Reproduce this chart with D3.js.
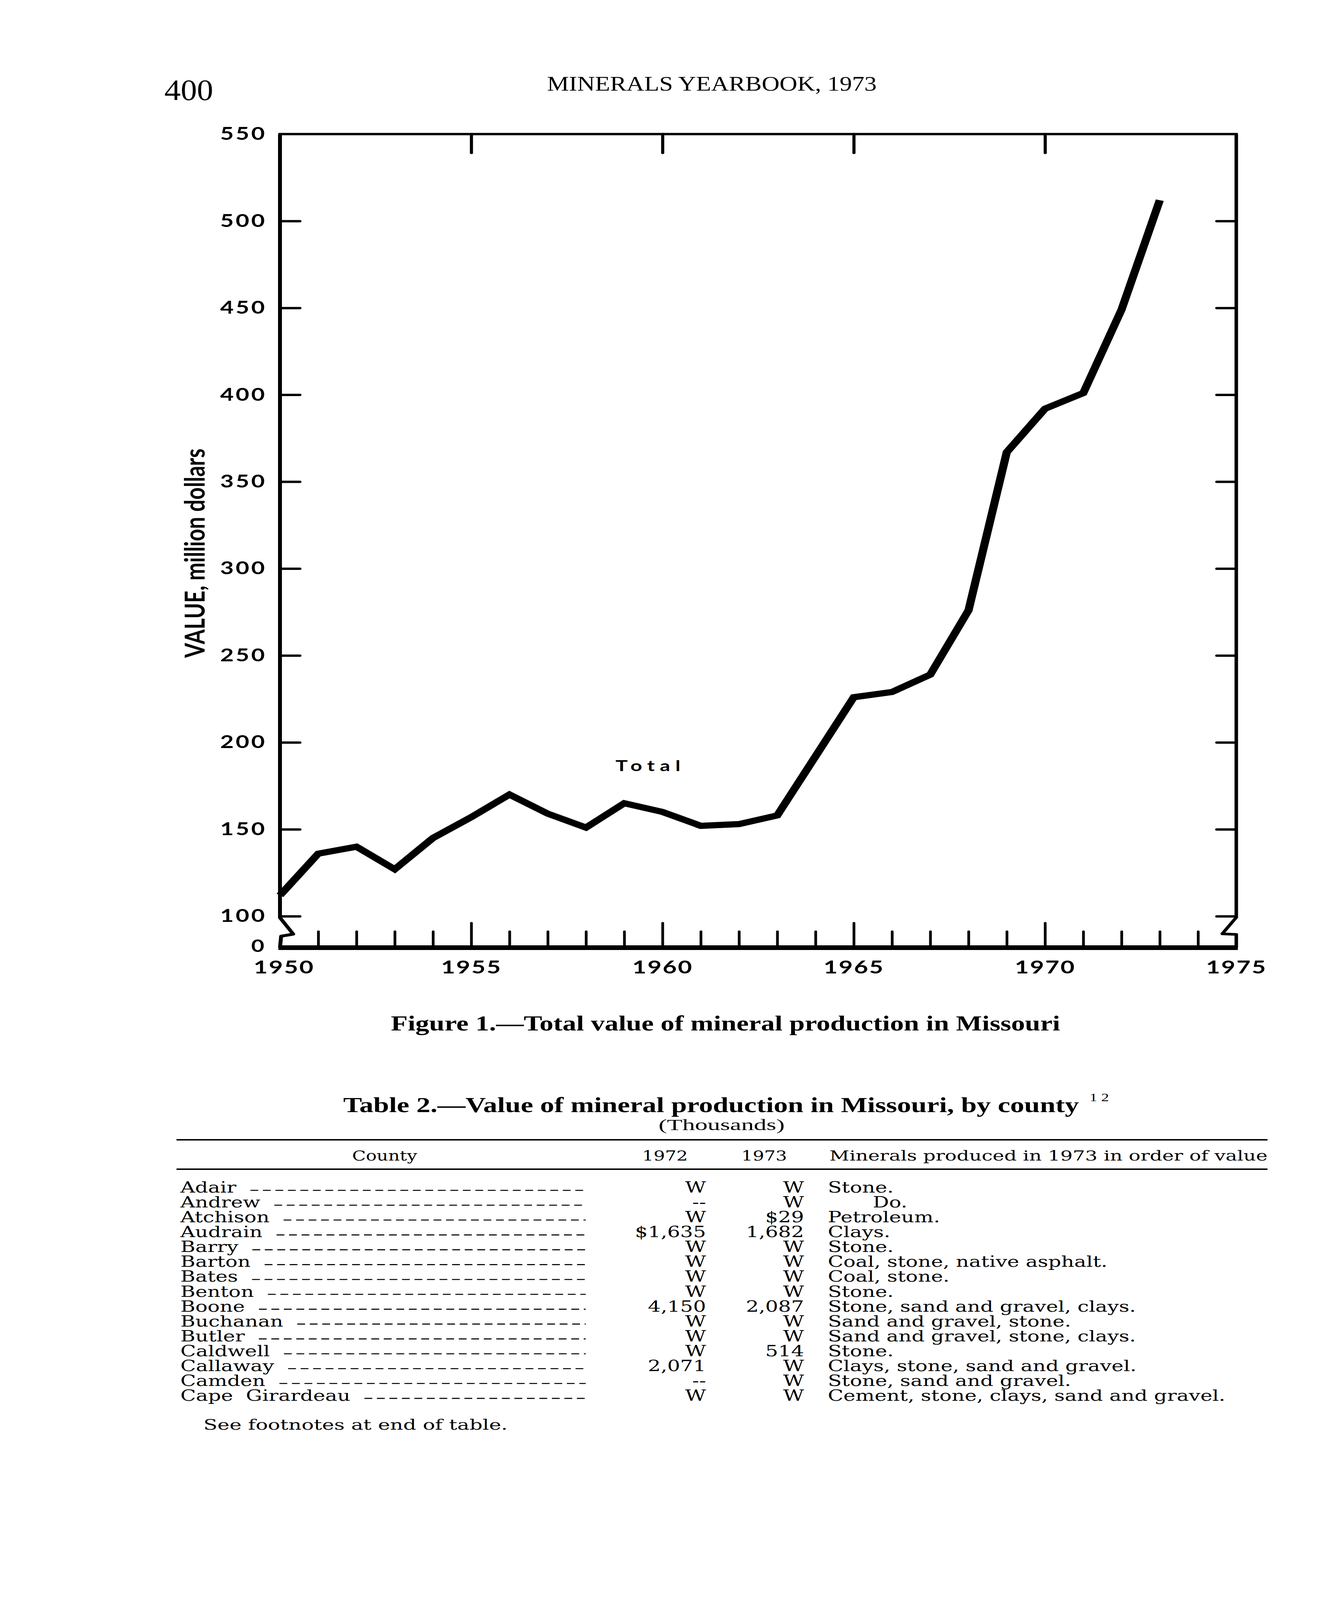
<!DOCTYPE html>
<html><head><meta charset="utf-8">
<script src="https://cdn.jsdelivr.net/npm/d3@7"></script>
<style>
html,body{margin:0;padding:0;background:#fff;width:100%;height:100%;overflow:hidden}
#page{display:block;width:100vw;height:100vh}
</style>
</head><body>
<svg id="page" viewBox="0 0 3406 5452" preserveAspectRatio="none" xmlns="http://www.w3.org/2000/svg"></svg>
<script>
// ---- chart data ----
const years  = [1950,1951,1952,1953,1954,1955,1956,1957,1958,1959,1960,1961,1962,1963,1964,1965,1966,1967,1968,1969,1970,1971,1972,1973];
const values = [112,136,140,127,145,157,170,159,151,165,160,152,153,158,192,226,229,239,276,367,392,401,449,512];
const yLabelValues = [100,150,200,250,300,350,400,450,500,550];
const yTickValues  = [100,150,200,250,300,350,400,450,500];
const xLabelYears  = [1950,1955,1960,1965,1970,1975];
const majorYears   = [1955,1960,1965,1970];
const seriesLabel  = "Total";
const yTitle = "VALUE, million dollars";

// ---- table data ----
const counties = ["Adair","Andrew","Atchison","Audrain","Barry","Barton","Bates","Benton","Boone","Buchanan","Butler","Caldwell","Callaway","Camden","Cape  Girardeau"];
const v1972 = ["W","--","W","$1,635","W","W","W","W","4,150","W","W","W","2,071","--","W"];
const v1973 = ["W","W","$29","1,682","W","W","W","W","2,087","W","W","514","W","W","W"];
const minerals = ["Stone.","Do.","Petroleum.","Clays.","Stone.","Coal, stone, native asphalt.","Coal, stone.","Stone.","Stone, sand and gravel, clays.","Sand and gravel, stone.","Sand and gravel, stone, clays.","Stone.","Clays, stone, sand and gravel.","Stone, sand and gravel.","Cement, stone, clays, sand and gravel."];

const svg = d3.select("#page");
svg.append("rect").attr("width",3406).attr("height",5452).attr("fill","#fff");

const serif = "'Liberation Serif', 'DejaVu Serif', serif";
const tserif = "'DejaVu Serif', 'Liberation Serif', serif";
const sans = "Lato, 'DejaVu Sans', sans-serif";

// ---- page header ----
svg.append("text").attr("x",421).attr("y",341).attr("font-family",serif).attr("font-size",100)
  .attr("textLength",125).attr("lengthAdjust","spacingAndGlyphs").text("400");
svg.append("text").attr("x",1401).attr("y",309).attr("font-family",serif).attr("font-size",70)
  .attr("textLength",844).attr("lengthAdjust","spacingAndGlyphs").text("MINERALS YEARBOOK, 1973");

// ---- scales ----
const x = d3.scaleLinear().domain([1950,1975]).range([717,3166]);
const y = d3.scaleLinear().domain([100,550]).range([3122,457]);
const y0 = 3229; // zero line below the axis break

const g = svg.append("g");

// frame: top
g.append("line").attr("x1",x(1950)).attr("x2",x(1975)).attr("y1",y(550)).attr("y2",y(550))
  .attr("stroke","#000").attr("stroke-width",8).attr("stroke-linecap","square");
// left axis with break
g.append("path").attr("d",
  `M${x(1950)},${y(550)} L${x(1950)},${y(100)+5} L${x(1950)+34},${y(100)+61} L${x(1950)+3},${y(100)+68} L${x(1950)},${y0}`)
  .attr("fill","none").attr("stroke","#000").attr("stroke-width",10).attr("stroke-linejoin","round");
// right axis with break
g.append("path").attr("d",
  `M${x(1975)},${y(550)} L${x(1975)},${y(100)+4} L${x(1975)-36},${y(100)+60} L${x(1975)},${y(100)+62} L${x(1975)},${y0}`)
  .attr("fill","none").attr("stroke","#000").attr("stroke-width",9).attr("stroke-linejoin","round");
// bottom thick baseline
g.append("line").attr("x1",x(1950)-4).attr("x2",x(1975)+4).attr("y1",y0).attr("y2",y0)
  .attr("stroke","#000").attr("stroke-width",16);

function styleAxis(sel, sw){
  sel.select(".domain").remove();
  sel.selectAll(".tick line").attr("stroke","#000").attr("stroke-width",sw).attr("stroke-linecap","round");
}

// left axis (inward ticks + labels)
const leftAx = g.append("g").attr("transform",`translate(${x(1950)},0)`)
  .call(d3.axisLeft(y).tickValues(yLabelValues).tickSizeInner(-51).tickSizeOuter(0).tickPadding(34).tickFormat(d3.format("d")));
styleAxis(leftAx, 8);
leftAx.selectAll(".tick").filter(d=>d===550).select("line").remove();
leftAx.selectAll(".tick text").attr("font-family",sans).attr("font-weight",700).attr("font-size",60)
  .attr("letter-spacing",5).attr("fill","#000");
// zero label below break
g.append("text").attr("x",x(1950)-40).attr("y",y0).attr("dy","0.26em").attr("text-anchor","end")
  .attr("font-family",sans).attr("font-weight",700).attr("font-size",58).text("0");

// right axis ticks
const rightAx = g.append("g").attr("transform",`translate(${x(1975)},0)`)
  .call(d3.axisRight(y).tickValues(yTickValues).tickSizeInner(-50).tickSizeOuter(0).tickFormat(""));
styleAxis(rightAx, 8);

// top axis ticks
const topAx = g.append("g").attr("transform",`translate(0,${y(550)})`)
  .call(d3.axisTop(x).tickValues(majorYears).tickSizeInner(-64).tickSizeOuter(0).tickFormat(""));
styleAxis(topAx, 8);

// bottom axis ticks (yearly minor, 5-year major)
const botAx = g.append("g").attr("transform",`translate(0,${y0})`)
  .call(d3.axisBottom(x).tickValues(d3.range(1951,1975)).tickSizeInner(-55).tickSizeOuter(0).tickFormat(""));
styleAxis(botAx, 7);
botAx.selectAll(".tick").filter(d=>majorYears.includes(d)).select("line").attr("y2",-84);

// bottom labels
const labAx = g.append("g").attr("transform",`translate(0,${y0})`)
  .call(d3.axisBottom(x).tickValues(xLabelYears).tickSize(0).tickPadding(44).tickFormat(d3.format("d")));
labAx.select(".domain").remove();
labAx.selectAll(".tick text").attr("font-family",sans).attr("font-weight",700).attr("font-size",62)
  .attr("letter-spacing",3).attr("fill","#000");
labAx.selectAll(".tick").filter(d=>d===1950).select("text").attr("x",10);

// y title
g.append("text").attr("transform","translate(497,1885) rotate(-90)").attr("text-anchor","middle")
  .attr("dominant-baseline","central").attr("font-family",sans).attr("font-weight",700).attr("font-size",70)
  .attr("textLength",713).attr("lengthAdjust","spacingAndGlyphs").text(yTitle);

// data line
const data = years.map((yr,i)=>({year:yr, value:values[i]}));
g.append("path").datum(data)
  .attr("d", d3.line().x(d=>x(d.year)).y(d=>y(d.value)))
  .attr("fill","none").attr("stroke","#000").attr("stroke-width",21)
  .attr("stroke-linejoin","miter").attr("stroke-miterlimit",3).attr("stroke-linecap","butt");

// series label
g.append("text").attr("x",x(1959.62)).attr("y",y(183.5)).attr("text-anchor","middle")
  .attr("font-family",sans).attr("font-weight",700).attr("font-size",52)
  .attr("textLength",166).attr("lengthAdjust","spacing").text(seriesLabel);

// ---- caption ----
svg.append("text").attr("x",1001).attr("y",3511).attr("font-family",serif).attr("font-weight",700).attr("font-size",74)
  .attr("textLength",1714).attr("lengthAdjust","spacingAndGlyphs").text("Figure 1.\u2014Total value of mineral production in Missouri");

// ---- table ----
svg.append("text").attr("x",879).attr("y",3789).attr("font-family",serif).attr("font-weight",700).attr("font-size",72)
  .attr("textLength",1884).attr("lengthAdjust","spacingAndGlyphs").text("Table 2.\u2014Value of mineral production in Missouri, by county");
svg.append("text").attr("x",2790).attr("y",3752).attr("font-family",serif).attr("font-size",40).text("1 2");
svg.append("text").attr("x",1848).attr("y",3851).attr("text-anchor","middle").attr("font-family",serif).attr("font-size",52)
  .attr("textLength",323).attr("lengthAdjust","spacingAndGlyphs").text("(Thousands)");

svg.append("line").attr("x1",452).attr("x2",3246).attr("y1",3884).attr("y2",3884).attr("stroke","#000").attr("stroke-width",5);
svg.append("line").attr("x1",452).attr("x2",3246).attr("y1",3984).attr("y2",3984).attr("stroke","#000").attr("stroke-width",5);

const hdr = svg.append("g").attr("font-family",tserif).attr("font-size",46);
hdr.append("text").attr("x",985).attr("y",3955).attr("text-anchor","middle").text("County");
hdr.append("text").attr("x",1703).attr("y",3955).attr("text-anchor","middle").text("1972");
hdr.append("text").attr("x",1957).attr("y",3955).attr("text-anchor","middle").text("1973");
hdr.append("text").attr("x",2124).attr("y",3955).attr("textLength",1122).attr("lengthAdjust","spacingAndGlyphs")
  .text("Minerals produced in 1973 in order of value");

const rowY = i => 4064 + i*50.64;
const body = svg.append("g").attr("font-family",tserif).attr("font-size",52).attr("fill","#000");
counties.forEach((c,i)=>{
  const t = body.append("text").attr("x",462).attr("y",rowY(i)).attr("xml:space","preserve").style("white-space","pre").text(c);
  const w = t.node().getComputedTextLength();
  body.append("line").attr("x1",462+w+36).attr("x2",1500).attr("y1",rowY(i)-8).attr("y2",rowY(i)-8)
    .attr("stroke","#000").attr("stroke-width",3.5).attr("stroke-dasharray","20,12");
  body.append("text").attr("x",1808).attr("y",rowY(i)).attr("text-anchor","end").text(v1972[i]);
  body.append("text").attr("x",2059).attr("y",rowY(i)).attr("text-anchor","end").text(v1973[i]);
  body.append("text").attr("x", minerals[i]==="Do." ? 2235 : 2120).attr("y",rowY(i)).text(minerals[i]);
});

svg.append("text").attr("x",521).attr("y",4872).attr("font-family",tserif).attr("font-size",50)
  .attr("textLength",779).attr("lengthAdjust","spacingAndGlyphs").text("See footnotes at end of table.");
</script>
</body></html>
